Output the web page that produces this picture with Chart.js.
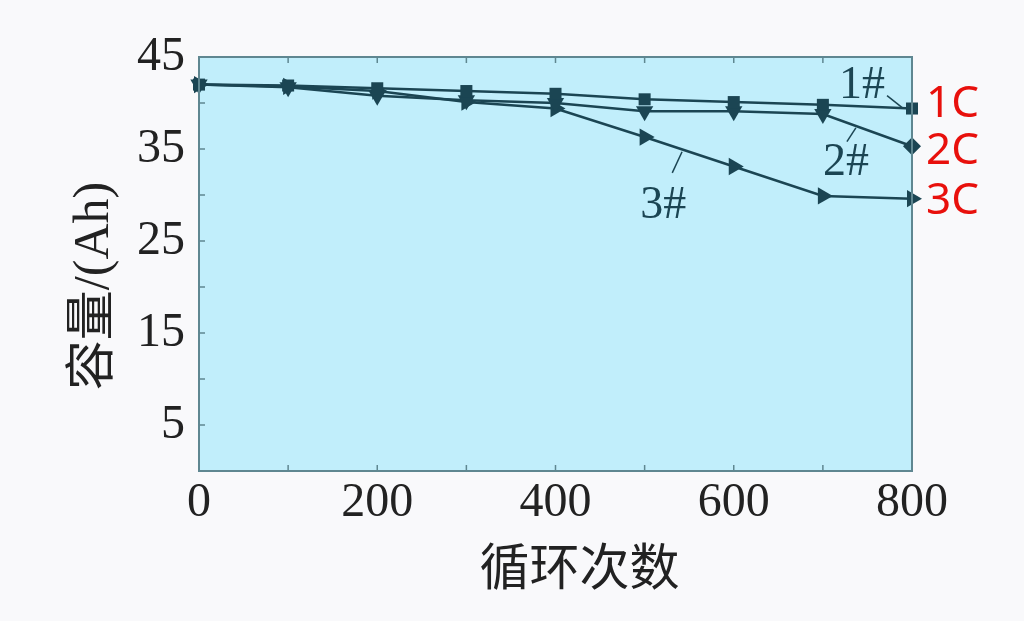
<!DOCTYPE html>
<html>
<head>
<meta charset="utf-8">
<script src="https://cdn.jsdelivr.net/npm/chart.js@4.4.1/dist/chart.umd.min.js"></script>
<style>
  html, body { margin: 0; padding: 0; background: #f9f9fb; }
  #wrap { width: 1024px; height: 621px; position: relative; }
</style>
</head>
<body>
<div id="wrap"><canvas id="chart-capacidade"></canvas></div>
<script>
// ─── dados ───────────────────────────────────────────
const ciclos   = [0, 100, 200, 300, 400, 500, 600, 700, 800];
const serie1C  = [42.0, 41.9, 41.6, 41.3, 41.0, 40.4, 40.1, 39.8, 39.4];
const serie2C  = [42.0, 41.7, 40.8, 40.3, 40.0, 39.1, 39.1, 38.8, 35.3];
const serie3C  = [42.0, 41.8, 41.3, 40.1, 39.4, 36.3, 33.1, 29.9, 29.6];
const nomesSerie = ['1#', '2#', '3#'];
const nomesTaxa  = ['1C', '2C', '3C'];
const taxaY      = [39.8, 34.7, 29.3];   // altura dos rótulos em Ah
const ticksY = [5, 15, 25, 35, 45];
const ticksX = [0, 200, 400, 600, 800];

// rótulos "n#" e linhas de chamada, em coordenadas de dados
const rotulos = [
  { txt: '1#', x: 744, y: 41.9, linha: [772, 40.8, 789, 39.5] },
  { txt: '2#', x: 726, y: 33.5, linha: [727, 35.8, 737, 37.3] },
  { txt: '3#', x: 521, y: 28.8, linha: [531, 32.4, 542, 34.7] },
];

const COR = '#1b4553';
const SERIF = '"Liberation Serif", "Times New Roman", serif';

function pontos(arr) {
  return arr.map((v, i) => ({ x: ciclos[i], y: v }));
}

const moldura = {
  id: 'moldura',
  beforeDraw(chart) {
    const { ctx, chartArea: a } = chart;
    ctx.save();
    ctx.fillStyle = '#c1eefb';
    ctx.fillRect(a.left, a.top, a.right - a.left, a.bottom - a.top);
    ctx.restore();
  },
  afterDatasetsDraw(chart) {
    const { ctx, chartArea: a, scales } = chart;
    const sx = scales.x, sy = scales.y;
    ctx.save();
    // borda
    ctx.strokeStyle = '#5f8791';
    ctx.lineWidth = 2;
    ctx.strokeRect(a.left, a.top, a.right - a.left, a.bottom - a.top);
    // ticks internos
    ctx.lineWidth = 1.5;
    ctx.beginPath();
    for (let v = 5; v < 45; v += 5) {
      const py = sy.getPixelForValue(v);
      ctx.moveTo(a.left, py); ctx.lineTo(a.left + 6, py);
    }
    for (let v = 100; v < 800; v += 100) {
      const px = sx.getPixelForValue(v);
      ctx.moveTo(px, a.bottom); ctx.lineTo(px, a.bottom - 6);
      ctx.moveTo(px, a.top); ctx.lineTo(px, a.top + 6);
    }
    ctx.stroke();

    // rótulos 1# 2# 3#
    ctx.fillStyle = COR;
    ctx.strokeStyle = COR;
    ctx.lineWidth = 1.5;
    ctx.font = '46px ' + SERIF;
    ctx.textAlign = 'center';
    ctx.textBaseline = 'middle';
    rotulos.forEach(r => {
      ctx.fillText(r.txt, sx.getPixelForValue(r.x), sy.getPixelForValue(r.y));
      const [x1, y1, x2, y2] = r.linha;
      ctx.beginPath();
      ctx.moveTo(sx.getPixelForValue(x1), sy.getPixelForValue(y1));
      ctx.lineTo(sx.getPixelForValue(x2), sy.getPixelForValue(y2));
      ctx.stroke();
    });

    // taxas 1C 2C 3C à direita
    ctx.fillStyle = '#e8100c';
    ctx.font = '44px "Noto Sans", sans-serif';
    ctx.textAlign = 'left';
    nomesTaxa.forEach((t, i) => {
      ctx.fillText(t, a.right + 14, sy.getPixelForValue(taxaY[i]));
    });

    // títulos dos eixos
    ctx.fillStyle = '#222';
    ctx.font = '50px ' + SERIF + ', "Noto Sans CJK SC"';
    ctx.textAlign = 'center';
    ctx.fillText('循环次数', (a.left + a.right) / 2 + 24, 572);
    ctx.translate(95, (a.top + a.bottom) / 2 + 22);
    ctx.rotate(-Math.PI / 2);
    ctx.fillText('容量/(Ah)', 0, 0);
    ctx.restore();
  }
};

const baseDs = {
  borderColor: COR,
  backgroundColor: COR,
  borderWidth: 2.5,
  pointBorderWidth: 0,
  tension: 0,
  clip: false,
};

new Chart(document.getElementById('chart-capacidade'), {
  type: 'line',
  data: {
    datasets: [
      { ...baseDs, label: nomesSerie[0], data: pontos(serie1C),
        pointStyle: 'rect', pointRadius: 8.5 },
      { ...baseDs, label: nomesSerie[1], data: pontos(serie2C),
        pointStyle: ciclos.map((c, i) => i === ciclos.length - 1 ? 'rectRot' : 'triangle'),
        pointRotation: ciclos.map((c, i) => i === ciclos.length - 1 ? 0 : 180),
        pointRadius: ciclos.map((c, i) => i === ciclos.length - 1 ? 9 : 10) },
      { ...baseDs, label: nomesSerie[2], data: pontos(serie3C),
        pointStyle: 'triangle', pointRotation: 90, pointRadius: 10 },
    ],
  },
  options: {
    responsive: true,
    maintainAspectRatio: false,
    animation: false,
    layout: { padding: { top: 57, right: 112, left: 0, bottom: 0 } },
    plugins: { legend: { display: false }, tooltip: { enabled: false } },
    scales: {
      x: {
        type: 'linear', min: 0, max: 800,
        afterFit: s => { s.height = 150; },
        afterBuildTicks: s => { s.ticks = ticksX.map(v => ({ value: v })); },
        grid: { display: false, drawTicks: false },
        border: { display: false },
        ticks: { color: '#222', padding: 4, font: { family: SERIF, size: 48 } },
      },
      y: {
        type: 'linear', min: 0, max: 45,
        afterFit: s => { s.width = 199; },
        afterBuildTicks: s => { s.ticks = ticksY.map(v => ({ value: v })); },
        grid: { display: false, drawTicks: false },
        border: { display: false },
        ticks: { color: '#222', padding: 14, font: { family: SERIF, size: 48 } },
      },
    },
  },
  plugins: [moldura],
});
</script>
</body>
</html>
